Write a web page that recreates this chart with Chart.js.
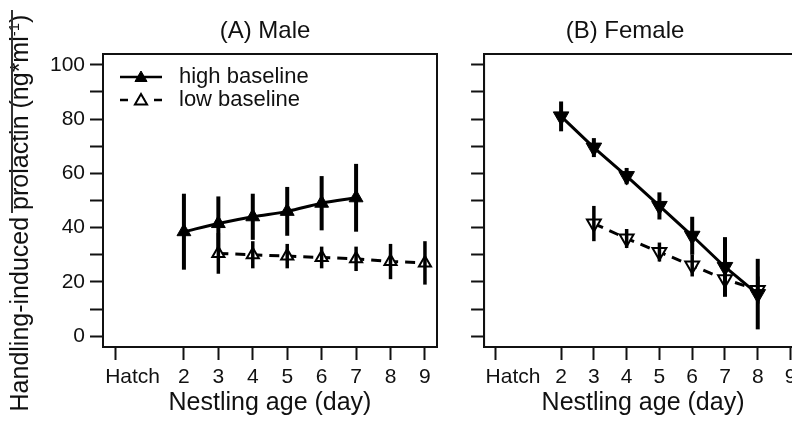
<!DOCTYPE html>
<html>
<head>
<meta charset="utf-8">
<script src="https://cdn.jsdelivr.net/npm/chart.js@4.4.1/dist/chart.umd.min.js"></script>
<style>
  html, body { margin: 0; padding: 0; background: #fff; overflow: hidden; width: 792px; height: 421px; }
  body { position: relative; font-family: "Liberation Sans", Arial, sans-serif; color: #111; }
  canvas { position: absolute; top: 0; }
  #chartA { left: 0; }
  #chartB { left: 445px; }
  .ptitle { position: absolute; top: 14px; width: 200px; font-size: 24px; line-height: 32px; text-align: center; }
  #ytitle { position: absolute; left: -191px; top: 198px; width: 420px; height: 30px; line-height: 30px;
            font-size: 25px; text-align: center; white-space: nowrap; transform: rotate(-90deg); }
  #ytitle sup { font-size: 15px; line-height: 0; }
  #overline { position: absolute; left: 11px; top: 10px; width: 2px; height: 203px; background: #333; }
</style>
</head>
<body>
<canvas id="chartA" width="446" height="421"></canvas>
<canvas id="chartB" width="370" height="421"></canvas>
<div class="ptitle" style="left:165px">(A) Male</div>
<div class="ptitle" style="left:525px">(B) Female</div>
<div id="ytitle">Handling-induced prolactin (ng*ml<sup>-1</sup>)</div>
<div id="overline"></div>
<script>
// x ticks (day 0 = hatch)
const xTickValues = [0, 2, 3, 4, 5, 6, 7, 8, 9];
const xTickLabels = ["Hatch", "2", "3", "4", "5", "6", "7", "8", "9"];
const yTickValues = [0, 10, 20, 30, 40, 50, 60, 70, 80, 90, 100];

// (A) Male
const maleHighDays = [2, 3, 4, 5, 6, 7];
const maleHigh = [38.5, 41.5, 44, 46, 49, 51];
const maleHighErr = [14, 10, 8.5, 9, 10, 12.5];
const maleLowDays = [3, 4, 5, 6, 7, 8, 9];
const maleLow = [30.5, 30, 29.5, 29, 28.5, 27.5, 27];
const maleLowErr = [7.5, 5, 4.5, 4, 4.5, 6.5, 8];

// (B) Female
const femaleHighDays = [2, 3, 4, 5, 6, 7, 8];
const femaleHigh = [81, 69.5, 59, 48, 37, 25.5, 15.5];
const femaleHighErr = [5.5, 3.5, 3, 5, 7, 11, 13];
const femaleLowDays = [3, 4, 5, 6, 7, 8];
const femaleLow = [41.5, 36, 31, 26, 21, 17];
const femaleLowErr = [6.5, 3.5, 3.5, 4, 5, 5];

Chart.defaults.font.family = '"Liberation Sans", Arial, sans-serif';
Chart.defaults.color = "#111";

// vertical error bars, drawn over the markers like in the original
const errorBars = {
  id: "errorBars",
  afterDatasetsDraw(chart) {
    const { ctx, scales: { x, y } } = chart;
    ctx.save();
    ctx.strokeStyle = "#000";
    chart.data.datasets.forEach((ds) => {
      if (!ds.errors) return;
      ctx.lineWidth = ds.errorWidth || 4;
      ds.data.forEach((p, i) => {
        const px = x.getPixelForValue(p.x);
        ctx.beginPath();
        ctx.moveTo(px, y.getPixelForValue(p.y + ds.errors[i]));
        ctx.lineTo(px, y.getPixelForValue(p.y - ds.errors[i]));
        ctx.stroke();
      });
    });
    ctx.restore();
  }
};

// box around the plot area
const frame = {
  id: "frame",
  afterDraw(chart) {
    const { ctx, chartArea: a } = chart;
    ctx.save();
    ctx.strokeStyle = "#111";
    ctx.lineWidth = 2;
    ctx.strokeRect(a.left, a.top, a.right - a.left, a.bottom - a.top);
    ctx.restore();
  }
};

// line + marker legend inside the plot (only panel A)
const sampleLegend = {
  id: "sampleLegend",
  afterDraw(chart, args, opts) {
    if (!opts.show) return;
    const { ctx, chartArea: a } = chart;
    chart.data.datasets.forEach((ds, i) => {
      const y = a.top + 23 + i * 23;
      const x0 = a.left + 17, x1 = a.left + 59;
      ctx.save();
      ctx.strokeStyle = "#000";
      ctx.lineWidth = 2.5;
      ctx.setLineDash(ds.borderDash ? [8, 9] : []);
      ctx.beginPath();
      ctx.moveTo(x0, y);
      ctx.lineTo(x1, y);
      ctx.stroke();
      ctx.setLineDash([]);
      ctx.fillStyle = ds.pointBackgroundColor;
      ctx.lineWidth = ds.pointBorderWidth;
      Chart.helpers.drawPoint(ctx, { pointStyle: "triangle", radius: 7, rotation: 0, borderWidth: ds.pointBorderWidth }, (x0 + x1) / 2, y + 1);
      ctx.fillStyle = "#111";
      ctx.font = '22px "Liberation Sans", Arial, sans-serif';
      ctx.textBaseline = "middle";
      ctx.fillText(ds.label, a.left + 76, y);
      ctx.restore();
    });
  }
};

function series(label, days, vals, errs, style) {
  return Object.assign({
    label: label,
    data: days.map((d, i) => ({ x: d, y: vals[i] })),
    errors: errs,
    borderColor: "#000",
    borderWidth: 3,
    pointStyle: "triangle",
    pointBorderColor: "#000",
    tension: 0
  }, style);
}

const filled = { pointBackgroundColor: "#000", pointBorderWidth: 1 };
const open = { pointBackgroundColor: "#fff", pointBorderWidth: 2, borderDash: [10, 7] };

function makePanel(id, datasets, yWidth, padRight, showYLabels, showLegend) {
  new Chart(document.getElementById(id), {
    type: "line",
    data: { datasets: datasets },
    plugins: [errorBars, frame, sampleLegend],
    options: {
      responsive: false,
      animation: false,
      layout: { padding: { top: 54, right: padRight, left: 0, bottom: 0 } },
      plugins: {
        legend: { display: false },
        tooltip: { enabled: false },
        sampleLegend: { show: showLegend }
      },
      scales: {
        x: {
          type: "linear",
          min: -0.35,
          max: 9.35,
          afterBuildTicks: (axis) => { axis.ticks = xTickValues.map((v) => ({ value: v })); },
          afterFit: (axis) => { axis.height = 74; },
          ticks: {
            font: { size: 21 },
            padding: 5,
            maxRotation: 0,
            autoSkip: false,
            callback: (v) => {
              const s = xTickLabels[xTickValues.indexOf(v)];
              return v === 0 ? "      " + s : s;
            }
          },
          grid: { drawOnChartArea: false, drawTicks: true, tickLength: 13, tickWidth: 2, tickColor: "#111" },
          border: { display: true, width: 2, color: "#111" },
          title: { display: true, text: "Nestling age (day)", font: { size: 25 }, padding: { top: 0, bottom: 3 } }
        },
        y: {
          min: -4,
          max: 104,
          afterBuildTicks: (axis) => { axis.ticks = yTickValues.map((v) => ({ value: v })); },
          afterFit: (axis) => { axis.width = yWidth; },
          ticks: {
            font: { size: 21 },
            padding: 5,
            callback: (v) => (showYLabels && v % 20 === 0 ? String(v) : "")
          },
          grid: { drawOnChartArea: false, drawTicks: true, tickLength: 13, tickWidth: 2, tickColor: "#111" },
          border: { display: true, width: 2, color: "#111" }
        }
      }
    }
  });
}

makePanel("chartA", [
  series("high baseline", maleHighDays, maleHigh, maleHighErr, Object.assign({ pointRadius: 8, tension: 0.35, errorWidth: 4 }, filled)),
  series("low baseline", maleLowDays, maleLow, maleLowErr, Object.assign({ pointRadius: 7, errorWidth: 3.5 }, open))
], 103, 3, true, true);

makePanel("chartB", [
  series("high baseline", femaleHighDays, femaleHigh, femaleHighErr, Object.assign({ pointRadius: 9, rotation: 180, errorWidth: 4 }, filled)),
  series("low baseline", femaleLowDays, femaleLow, femaleLowErr, Object.assign({ pointRadius: 8, rotation: 180, errorWidth: 3.5 }, open))
], 17, 13, false, false);
</script>
</body>
</html>
